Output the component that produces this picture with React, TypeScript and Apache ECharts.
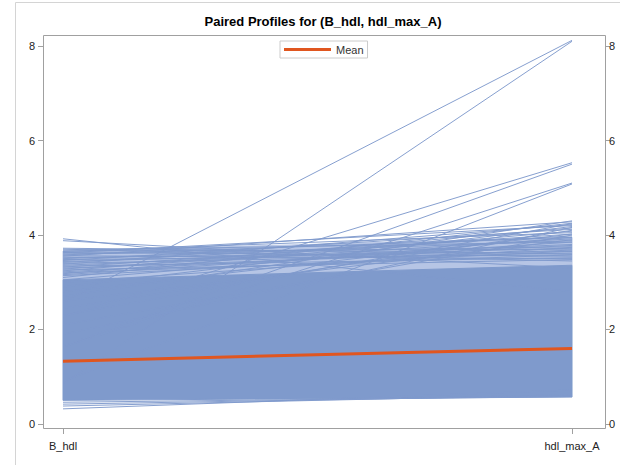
import React, { useEffect, useRef } from "react";
import * as echarts from "echarts";

const categories = ["B_hdl", "hdl_max_A"];
const yTicks = [0, 2, 4, 6, 8];
const meanValues = [1.33, 1.6];

// dense core of the profiles (envelope of the many overlapping lines): [B_hdl low, B_hdl high, hdl_max_A low, hdl_max_A high]
const coreBand = [0.5, 3.05, 0.57, 3.36];
// hatched upper fringe made of many lines with gaps
const fringeBand = [3.05, 3.66, 3.36, 3.95];

// individual visible profiles: B_hdl -> hdl_max_A
const outlierB = [2.58, 0.85, 2.27, 1.65, 1.63, 0.9];
const outlierA = [8.12, 8.1, 5.53, 5.5, 5.1, 5.08];

const fringeB = [3.92, 3.88, 3.72, 3.7, 3.68, 3.66, 3.65, 3.63, 3.62, 3.6, 3.58, 3.56, 3.55, 3.52, 3.5, 3.48, 3.46, 3.44, 3.42, 3.4, 3.38, 3.36, 3.34, 3.32, 3.3, 3.28, 3.26, 3.24, 3.22, 3.2, 3.18, 3.16, 3.14, 3.1, 3.05, 3.0, 2.9, 2.8, 2.7, 2.6, 2.45, 2.3, 2.1, 1.9];
const fringeA = [2.8, 3.3, 3.6, 3.45, 3.85, 3.7, 4.05, 3.55, 4.2, 3.75, 3.95, 3.5, 4.28, 3.65, 3.88, 3.58, 4.12, 3.72, 3.98, 3.62, 4.22, 3.8, 3.52, 4.02, 3.68, 3.92, 3.48, 4.15, 3.78, 3.58, 4.08, 3.85, 3.66, 4.25, 3.95, 3.74, 4.18, 4.02, 4.3, 3.9, 4.1, 4.24, 4.0, 4.16];

const lowB = [0.32, 0.38, 0.42, 0.46];
const lowA = [0.72, 0.62, 0.6, 0.58];

const BLUE = "#7f9acc";
const LIGHT = "#b6c5e5";
const RED = "#e0561f";
const FONT = "'Liberation Sans', Arial, sans-serif";

function pairs(b: number[], a: number[]) {
  return b.map((v, i) => ({ coords: [[0, v], [1, a[i]]] }));
}

function bandSeries(name: string, band: number[], fill: string, z: number) {
  return {
    name,
    type: "custom",
    silent: true,
    z,
    data: [band],
    renderItem: (_params: any, api: any) => {
      const p1 = api.coord([0, api.value(0)]);
      const p2 = api.coord([1, api.value(2)]);
      const p3 = api.coord([1, api.value(3)]);
      const p4 = api.coord([0, api.value(1)]);
      return {
        type: "polygon",
        shape: { points: [p1, p2, p3, p4] },
        style: { fill, stroke: fill, lineWidth: 1 },
      };
    },
  };
}

export default function App() {
  const ref = useRef<HTMLDivElement>(null);
  useEffect(() => {
    if (!ref.current) return;
    const chart = echarts.init(ref.current, undefined, { renderer: "svg" });
    const profileLines = [
      ...pairs(lowB, lowA),
      ...pairs(fringeB, fringeA),
      ...pairs(outlierB, outlierA),
    ];
    const yAxisCommon = {
      type: "value",
      min: -0.106,
      max: 8.212,
      axisLine: { show: false, onZero: false },
      splitLine: { show: false },
      axisTick: { show: true, length: 5, customValues: yTicks, lineStyle: { color: "#a0a0a0" } },
    };
    chart.setOption({
      animation: false,
      textStyle: { fontFamily: FONT },
      grid: { left: 43, right: 15, top: 36, bottom: 36 },
      legend: {
        data: ["Mean"],
        left: 280,
        top: 41,
        icon: "rect",
        itemWidth: 47,
        itemHeight: 3,
        padding: [3, 4],
        borderColor: "#cccccc",
        borderWidth: 1,
        textStyle: { fontSize: 11, color: "#333", fontFamily: FONT },
      },
      xAxis: {
        type: "value",
        min: -0.0393,
        max: 1.0648,
        axisLine: { show: false, onZero: false },
        splitLine: { show: false },
        axisTick: { show: true, length: 5, customValues: [0, 1], lineStyle: { color: "#a0a0a0" } },
        axisLabel: {
          customValues: [0, 1],
          margin: 11,
          fontSize: 11,
          color: "#222",
          fontFamily: FONT,
          formatter: (v: number) => categories[Math.round(v)] ?? "",
        },
      },
      yAxis: [
        {
          ...yAxisCommon,
          position: "left",
          axisLabel: { customValues: yTicks, margin: 8, fontSize: 11, color: "#222", fontFamily: FONT },
        },
        {
          ...yAxisCommon,
          position: "right",
          axisLabel: { customValues: yTicks, margin: 4, fontSize: 11, color: "#222", fontFamily: FONT },
        },
      ],
      series: [
        bandSeries("fringeBand", fringeBand, LIGHT, 1),
        bandSeries("coreBand", coreBand, BLUE, 2),
        {
          name: "profiles",
          type: "lines",
          coordinateSystem: "cartesian2d",
          silent: true,
          lineStyle: { color: BLUE, width: 1, opacity: 0.95 },
          data: profileLines,
          z: 3,
        },
        {
          name: "Mean",
          type: "line",
          symbol: "none",
          color: RED,
          lineStyle: { color: RED, width: 3 },
          data: [[0, meanValues[0]], [1, meanValues[1]]],
          z: 10,
        },
      ],
      graphic: [
        {
          type: "line",
          shape: { x1: 15.5, y1: 2.5, x2: 15.5, y2: 465 },
          style: { stroke: "#d4d4d4", lineWidth: 1 },
          silent: true,
        },
        {
          type: "line",
          shape: { x1: 15.5, y1: 2.5, x2: 620, y2: 2.5 },
          style: { stroke: "#d4d4d4", lineWidth: 1 },
          silent: true,
        },
        {
          type: "rect",
          shape: { x: 43.5, y: 35.5, width: 562, height: 393 },
          style: { fill: "none", stroke: "#a0a0a0", lineWidth: 1 },
          silent: true,
          z: 100,
        },
        {
          type: "text",
          x: 323,
          y: 21,
          style: {
            text: "Paired Profiles for (B_hdl, hdl_max_A)",
            fontFamily: FONT,
            fontSize: 13,
            fontWeight: "bold",
            fill: "#000",
            align: "center",
            verticalAlign: "middle",
          },
        },
      ],
    });
    return () => chart.dispose();
  }, []);
  return (
    <div
      ref={ref}
      style={{ position: "fixed", left: 0, top: 0, width: 620, height: 465, background: "#fff" }}
    />
  );
}
